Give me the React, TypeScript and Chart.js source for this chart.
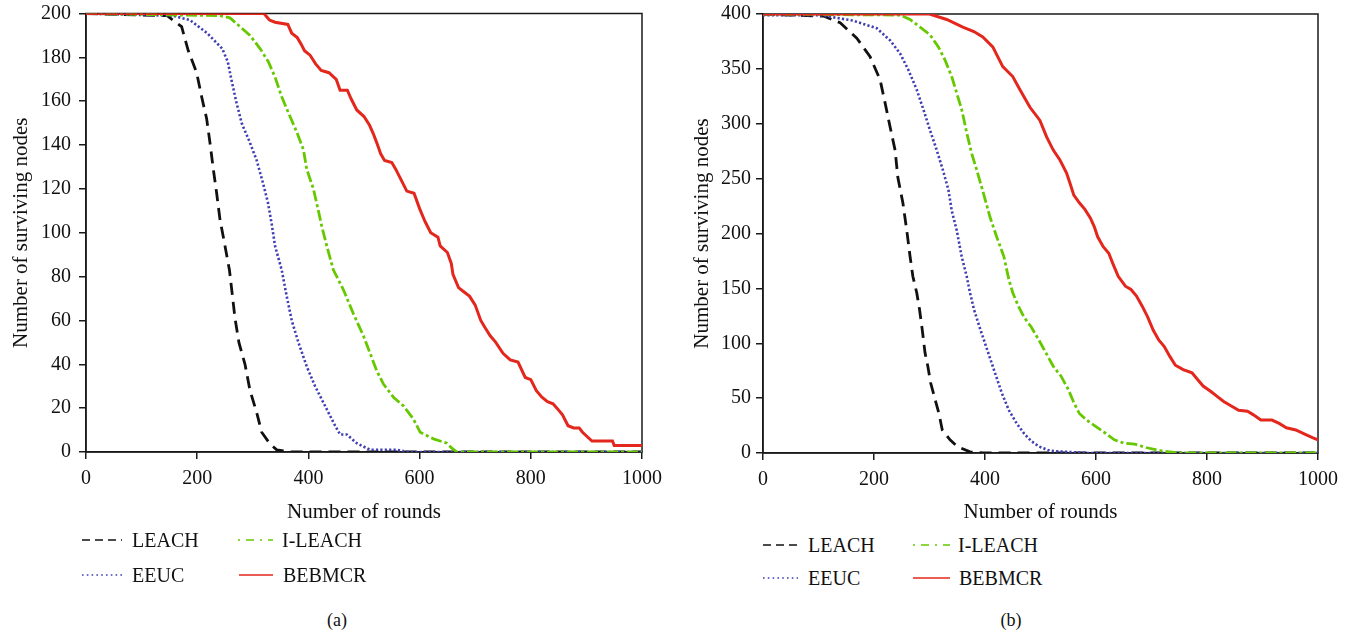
import React, { useEffect, useRef } from "react";
import { Chart, registerables } from "chart.js";

Chart.register(...registerables);

// ---------- data ----------
const X_TICKS = [0, 200, 400, 600, 800, 1000];
const A_Y_TICKS = [0, 20, 40, 60, 80, 100, 120, 140, 160, 180, 200];
const B_Y_TICKS = [0, 50, 100, 150, 200, 250, 300, 350, 400];
const SERIES_NAMES = ["LEACH", "EEUC", "I-LEACH", "BEBMCR"];

// Panel (a): 200 nodes
const A_LEACH_R = [0, 146, 172, 184, 199, 208, 217, 223, 229, 235, 241, 250, 258, 263, 268, 275, 286, 295, 307, 316, 330, 343, 370, 1000];
const A_LEACH_N = [200, 199, 194, 183, 173, 162, 152, 141, 129, 118, 106, 94, 83, 72, 61, 50, 40, 28, 18, 9, 4, 1, 0, 0];

const A_EEUC_R = [0, 156, 187, 218, 245, 255, 263, 271, 280, 295, 307, 318, 327, 334, 340, 352, 361, 370, 382, 397, 412, 430, 448, 457, 469, 487, 511, 559, 580, 1000];
const A_EEUC_N = [200, 199, 197, 191, 184, 178, 168, 159, 150, 141, 133, 123, 114, 104, 94, 83, 71, 60, 50, 39, 30, 21, 12, 8, 8, 4, 1, 1, 0, 0];

const A_ILEACH_R = [0, 241, 259, 277, 295, 313, 328, 340, 352, 367, 379, 391, 397, 409, 418, 424, 433, 445, 463, 481, 499, 511, 523, 535, 553, 571, 589, 601, 625, 649, 657, 667, 1000];
const A_ILEACH_N = [200, 199, 198, 194, 190, 184, 178, 171, 162, 153, 146, 138, 129, 120, 110, 103, 94, 83, 74, 63, 53, 45, 37, 31, 25, 21, 15, 9, 6, 4, 2, 0, 0];

const A_BEBMCR_R = [0, 320, 330, 340, 363, 370, 380, 387, 393, 403, 413, 423, 437, 450, 457, 470, 477, 487, 500, 510, 517, 523, 530, 537, 550, 557, 567, 577, 590, 600, 610, 620, 633, 637, 650, 657, 660, 670, 680, 690, 700, 710, 717, 727, 737, 750, 763, 777, 790, 800, 810, 820, 830, 840, 847, 857, 867, 877, 887, 893, 910, 947, 950, 1000];
const A_BEBMCR_N = [200, 200, 197, 196, 195, 191, 189, 186, 183, 181, 177, 174, 173, 170, 165, 165, 161, 156, 153, 149, 145, 141, 136, 133, 132, 129, 124, 119, 118, 111, 105, 100, 98, 94, 91, 86, 81, 75, 73, 71, 67, 60, 57, 53, 50, 45, 42, 41, 34, 33, 28, 25, 23, 22, 20, 17, 12, 11, 11, 9, 5, 5, 3, 3];

// Panel (b): 400 nodes
const B_LEACH_R = [0, 50, 110, 139, 169, 193, 211, 220, 229, 238, 243, 252, 259, 265, 270, 277, 282, 287, 292, 297, 302, 310, 317, 323, 337, 350, 373, 397, 1000];
const B_LEACH_N = [400, 399, 398, 392, 378, 361, 340, 319, 297, 276, 251, 228, 203, 179, 161, 146, 131, 112, 91, 79, 64, 49, 36, 21, 12, 6, 1, 0, 0];

const B_EEUC_R = [0, 103, 162, 205, 229, 247, 262, 277, 289, 301, 313, 324, 334, 340, 349, 358, 367, 373, 380, 390, 400, 410, 420, 430, 443, 457, 470, 483, 497, 517, 550, 583, 1000];
const B_EEUC_N = [399, 399, 394, 387, 376, 364, 349, 331, 313, 294, 276, 258, 240, 221, 203, 179, 161, 146, 131, 115, 100, 85, 70, 55, 39, 27, 18, 11, 6, 2, 1, 0, 0];

const B_ILEACH_R = [0, 247, 265, 283, 301, 316, 328, 340, 349, 358, 367, 376, 385, 397, 409, 421, 434, 443, 450, 460, 470, 483, 497, 510, 523, 537, 550, 560, 570, 583, 600, 617, 633, 650, 670, 690, 717, 750, 1000];
const B_ILEACH_N = [400, 399, 395, 388, 381, 370, 358, 343, 328, 313, 292, 273, 258, 237, 215, 197, 179, 158, 146, 134, 124, 115, 103, 91, 79, 70, 58, 46, 36, 30, 24, 18, 12, 9, 8, 5, 2, 0, 0];

const B_BEBMCR_R = [0, 300, 331, 360, 380, 396, 414, 432, 450, 463, 481, 499, 511, 523, 535, 547, 553, 560, 570, 580, 590, 597, 603, 613, 623, 630, 640, 653, 663, 673, 683, 693, 703, 713, 723, 733, 743, 757, 773, 783, 793, 807, 817, 830, 843, 857, 873, 883, 897, 917, 930, 943, 960, 977, 990, 1000];
const B_BEBMCR_N = [400, 400, 395, 388, 384, 379, 370, 352, 343, 331, 315, 303, 288, 276, 267, 255, 246, 235, 228, 222, 214, 206, 197, 188, 182, 173, 161, 152, 149, 143, 134, 124, 112, 103, 97, 88, 80, 76, 73, 67, 61, 56, 52, 47, 43, 39, 38, 35, 30, 30, 27, 23, 21, 17, 14, 12];

// ---------- styles ----------
const FONT = "'Liberation Serif', 'Times New Roman', serif";
const STYLE: Record<string, { color: string; dash: number[]; width: number; legendDash: string; legendWidth: number }> = {
  LEACH: { color: "#111111", dash: [12, 7], width: 2.8, legendDash: "8 5", legendWidth: 1.6 },
  EEUC: { color: "#3f3fb5", dash: [2.2, 2.2], width: 2.6, legendDash: "1.6 3.2", legendWidth: 1.4 },
  "I-LEACH": { color: "#66c800", dash: [11, 3, 3, 3], width: 2.8, legendDash: "2 6 8 6", legendWidth: 1.4 },
  BEBMCR: { color: "#e3271d", dash: [], width: 3, legendDash: "", legendWidth: 1.6 },
};

type Series = { name: string; r: number[]; n: number[] };

const framePlugin = {
  id: "frame",
  beforeDatasetsDraw(chart: any) {
    const { ctx, chartArea } = chart;
    ctx.save();
    ctx.strokeStyle = "#1a1a1a";
    ctx.lineWidth = 1.5;
    ctx.strokeRect(chartArea.left, chartArea.top, chartArea.right - chartArea.left, chartArea.bottom - chartArea.top);
    ctx.restore();
  },
};

type PanelProps = {
  left: number;
  width: number;
  plotRight: number;
  yMax: number;
  yTicks: number[];
  series: Series[];
  yAxisWidth: number;
  yTitlePad: number;
  yTickPad: number;
  top: number;
  bottom: number;
};

function Panel(p: PanelProps) {
  const ref = useRef<HTMLCanvasElement>(null);
  const H = 530;
  useEffect(() => {
    if (!ref.current) return;
    // draw order: first dataset is drawn on top
    const ordered = ["BEBMCR", "I-LEACH", "EEUC", "LEACH"].map((nm) => p.series.find((s) => s.name === nm)!);
    const chart = new Chart(ref.current, {
      type: "line",
      data: {
        datasets: ordered.map((s) => ({
          label: s.name,
          data: s.r.map((x, i) => ({ x, y: s.n[i] })),
          borderColor: STYLE[s.name].color,
          borderDash: STYLE[s.name].dash,
          borderWidth: STYLE[s.name].width,
          pointRadius: 0,
          tension: 0,
          fill: false,
        })),
      },
      options: {
        animation: false,
        responsive: false,
        devicePixelRatio: 1,
        layout: { padding: { left: 0, right: p.left + p.width - p.plotRight, top: p.top, bottom: 0 } },
        plugins: { legend: { display: false }, tooltip: { enabled: false } },
        scales: {
          x: {
            type: "linear",
            min: 0,
            max: 1000,
            afterBuildTicks: (s: any) => {
              s.ticks = X_TICKS.map((v) => ({ value: v }));
            },
            afterFit: (s: any) => {
              s.height = H - p.bottom;
            },
            ticks: {
              color: "#111",
              font: { family: FONT, size: 20 },
              padding: 8,
              maxRotation: 0,
              autoSkip: false,
              callback: (v: any) => String(v),
            },
            grid: { drawOnChartArea: false, drawTicks: true, tickLength: 7, color: "#1a1a1a", lineWidth: 1.5 },
            border: { display: true, color: "#1a1a1a", width: 1.5 },
            title: {
              display: true,
              text: "Number of rounds",
              color: "#111",
              font: { family: FONT, size: 21 },
              padding: { top: 0, bottom: 5 },
            },
          },
          y: {
            type: "linear",
            min: 0,
            max: p.yMax,
            afterBuildTicks: (s: any) => {
              s.ticks = p.yTicks.map((v) => ({ value: v }));
            },
            afterFit: (s: any) => {
              s.width = p.yAxisWidth;
            },
            ticks: {
              color: "#111",
              font: { family: FONT, size: 20, lineHeight: 0.4 },
              padding: p.yTickPad,
              autoSkip: false,
              callback: (v: any) => String(v),
            },
            grid: { drawOnChartArea: false, drawTicks: true, tickLength: 7, color: "#1a1a1a", lineWidth: 1.5 },
            border: { display: true, color: "#1a1a1a", width: 1.5 },
            title: {
              display: true,
              text: "Number of surviving nodes",
              color: "#111",
              font: { family: FONT, size: 21 },
              padding: { top: p.yTitlePad, bottom: 0 },
            },
          },
        },
      },
      plugins: [framePlugin],
    });
    return () => chart.destroy();
  }, []);
  return (
    <canvas
      ref={ref}
      width={p.width}
      height={H}
      style={{ position: "absolute", left: p.left, top: 0, width: p.width, height: H }}
    />
  );
}

function LegendItem({ name, x, y, textX }: { name: string; x: [number, number]; y: number; textX: number }) {
  const st = STYLE[name];
  return (
    <>
      <svg width={x[1] - x[0]} height={6} style={{ position: "absolute", left: x[0], top: y - 3 }}>
        <line
          x1={0}
          y1={3}
          x2={x[1] - x[0]}
          y2={3}
          stroke={st.color}
          strokeWidth={st.legendWidth}
          strokeDasharray={st.legendDash || undefined}
        />
      </svg>
      <div
        style={{
          position: "absolute",
          left: textX,
          top: y - 10,
          fontFamily: FONT,
          fontSize: 20,
          lineHeight: "20px",
          color: "#111",
          whiteSpace: "nowrap",
        }}
      >
        {name}
      </div>
    </>
  );
}

export default function App() {
  const seriesA: Series[] = [
    { name: SERIES_NAMES[0], r: A_LEACH_R, n: A_LEACH_N },
    { name: SERIES_NAMES[1], r: A_EEUC_R, n: A_EEUC_N },
    { name: SERIES_NAMES[2], r: A_ILEACH_R, n: A_ILEACH_N },
    { name: SERIES_NAMES[3], r: A_BEBMCR_R, n: A_BEBMCR_N },
  ];
  const seriesB: Series[] = [
    { name: SERIES_NAMES[0], r: B_LEACH_R, n: B_LEACH_N },
    { name: SERIES_NAMES[1], r: B_EEUC_R, n: B_EEUC_N },
    { name: SERIES_NAMES[2], r: B_ILEACH_R, n: B_ILEACH_N },
    { name: SERIES_NAMES[3], r: B_BEBMCR_R, n: B_BEBMCR_N },
  ];
  const caption = { position: "absolute" as const, width: 40, textAlign: "center" as const, top: 611, fontFamily: FONT, fontSize: 18, lineHeight: "18px", color: "#111" };
  return (
    <div
      style={{
        position: "fixed",
        left: 0,
        top: 0,
        width: 1356,
        height: 635,
        background: "#fff",
        overflow: "hidden",
      }}
    >
      <Panel
        left={0}
        width={680}
        plotRight={642}
        yMax={200}
        yTicks={A_Y_TICKS}
        series={seriesA}
        yAxisWidth={86}
        yTitlePad={9}
        yTickPad={8}
        top={13.5}
        bottom={452}
      />
      <Panel
        left={680}
        width={676}
        plotRight={1318}
        yMax={400}
        yTicks={B_Y_TICKS}
        series={seriesB}
        yAxisWidth={83}
        yTitlePad={10}
        yTickPad={5}
        top={14}
        bottom={453}
      />
      {/* legend (a) */}
      <LegendItem name="LEACH" x={[82, 122]} y={540} textX={132} />
      <LegendItem name="I-LEACH" x={[238, 273]} y={540} textX={282} />
      <LegendItem name="EEUC" x={[82, 122]} y={575} textX={132} />
      <LegendItem name="BEBMCR" x={[239, 273]} y={575} textX={283} />
      {/* legend (b) */}
      <LegendItem name="LEACH" x={[763, 798]} y={545} textX={808} />
      <LegendItem name="I-LEACH" x={[913, 950]} y={545} textX={958} />
      <LegendItem name="EEUC" x={[763, 798]} y={578} textX={808} />
      <LegendItem name="BEBMCR" x={[913, 950]} y={578} textX={959} />
      <div style={{ ...caption, left: 317 }}>(a)</div>
      <div style={{ ...caption, left: 991 }}>(b)</div>
    </div>
  );
}
